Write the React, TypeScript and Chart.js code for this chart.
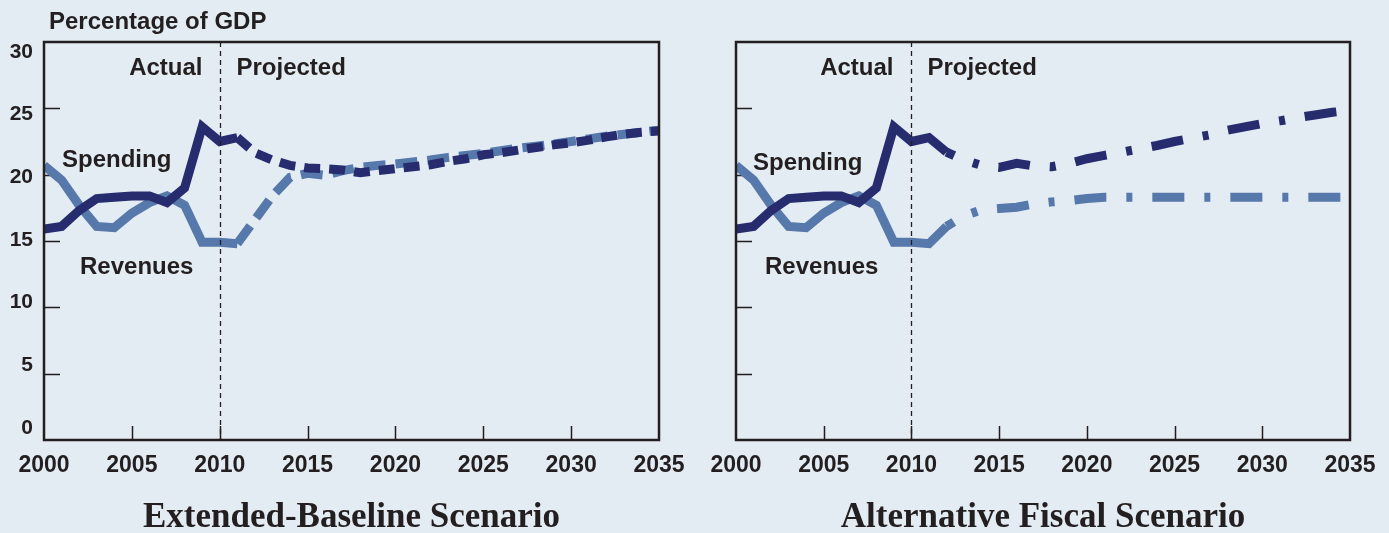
import React, { useEffect, useRef } from "react";
import { Chart, registerables } from "chart.js";

Chart.register(...registerables);

// ---------- data ----------
const years = [
  2000, 2001, 2002, 2003, 2004, 2005, 2006, 2007, 2008, 2009, 2010, 2011,
  2012, 2013, 2014, 2015, 2016, 2017, 2018, 2019, 2020, 2021, 2022, 2023,
  2024, 2025, 2026, 2027, 2028, 2029, 2030, 2031, 2032, 2033, 2034, 2035,
];

// 2000-2011 (actual)
const spendingActual = [15.9, 16.1, 17.3, 18.2, 18.3, 18.4, 18.4, 17.9, 19.0, 23.6, 22.5, 22.8];
const revenuesActual = [20.7, 19.6, 17.7, 16.1, 16.0, 17.1, 17.9, 18.4, 17.7, 14.9, 14.9, 14.8];

// 2012-2035 (projected)
const spendingBaseline = [
  21.65, 21.1, 20.7, 20.5, 20.45, 20.35, 20.15, 20.3, 20.45, 20.6, 20.75, 21.0,
  21.2, 21.5, 21.65, 21.85, 22.05, 22.25, 22.4, 22.6, 22.85, 23.05, 23.2, 23.3,
];
const revenuesBaseline = [
  16.6, 18.4, 19.8, 20.1, 19.95, 20.3, 20.55, 20.7, 20.8, 20.95, 21.1, 21.3,
  21.45, 21.6, 21.8, 22.0, 22.15, 22.3, 22.5, 22.7, 22.9, 23.05, 23.2, 23.35,
];
const spendingAlternative = [
  21.7, 21.1, 20.7, 20.55, 20.85, 20.65, 20.6, 20.85, 21.2, 21.45, 21.7, 21.95,
  22.2, 22.5, 22.75, 23.0, 23.35, 23.6, 23.85, 24.05, 24.3, 24.5, 24.7, 24.85,
];
const revenuesAlternative = [
  16.1, 16.9, 17.35, 17.45, 17.55, 17.8, 17.95, 18.05, 18.2, 18.3, 18.3, 18.3,
  18.3, 18.3, 18.3, 18.3, 18.3, 18.3, 18.3, 18.3, 18.3, 18.3, 18.3, 18.3,
];

const xTicks = [2000, 2005, 2010, 2015, 2020, 2025, 2030, 2035];
const yTicks = [0, 5, 10, 15, 20, 25, 30];
const dividerYear = 2010;

// ---------- styles ----------
const BG = "#E3EBF3";
const INK = "#231F20";
const SPEND = "#262C6E";
const REV = "#5678AA";
const SANS = '"Liberation Sans", Arial, Helvetica, sans-serif';
const SERIF = '"Liberation Serif", "Times New Roman", serif';

type Panel = {
  title: string;
  spending: number[];
  revenues: number[];
  dashFrom: number;
  spendDash: number[];
  revDash: number[];
  dashOffset: number;
  showYLabels: boolean;
  canvasLeft: number;
  canvasWidth: number;
  padLeft: number;
  padRight: number;
  spendLbl: [number, number];
  revLbl: [number, number];
};

const framePlugin = {
  id: "frame",
  beforeDatasetsDraw(chart: any) {
    const { ctx, chartArea: a, scales } = chart;
    ctx.save();
    ctx.strokeStyle = INK;
    ctx.lineWidth = 1.5;
    ctx.beginPath();
    yTicks.forEach((v) => {
      if (v === yTicks[0] || v === yTicks[yTicks.length - 1]) return;
      const py = Math.round(scales.y.getPixelForValue(v)) + 0.5;
      ctx.moveTo(a.left, py);
      ctx.lineTo(a.left + 16, py);
    });
    xTicks.forEach((v) => {
      if (v === xTicks[0] || v === xTicks[xTicks.length - 1]) return;
      const px = Math.round(scales.x.getPixelForValue(v)) + 0.5;
      ctx.moveTo(px, a.bottom);
      ctx.lineTo(px, a.bottom - 14);
    });
    ctx.stroke();
    ctx.restore();
  },
  afterDatasetsDraw(chart: any, _a: any, opts: any) {
    const { ctx, chartArea: a, scales } = chart;
    const p: Panel = opts.panel;
    ctx.save();
    // divider
    const dx = Math.round(scales.x.getPixelForValue(dividerYear)) + 0.5;
    ctx.strokeStyle = INK;
    ctx.lineWidth = 1.3;
    ctx.setLineDash([5, 4]);
    ctx.beginPath();
    ctx.moveTo(dx, a.top);
    ctx.lineTo(dx, a.bottom);
    ctx.stroke();
    ctx.setLineDash([]);
    // frame
    ctx.lineWidth = 2.5;
    ctx.strokeRect(a.left, a.top, a.right - a.left, a.bottom - a.top);

    ctx.fillStyle = INK;
    // x labels
    ctx.font = `bold 23px ${SANS}`;
    ctx.textAlign = "center";
    ctx.textBaseline = "alphabetic";
    xTicks.forEach((v) => {
      ctx.fillText(String(v), scales.x.getPixelForValue(v), a.bottom + 32);
    });
    // y labels
    if (p.showYLabels) {
      ctx.font = `bold 21px ${SANS}`;
      ctx.textAlign = "right";
      ctx.textBaseline = "middle";
      const top = a.top + 10;
      const bot = a.bottom - 12;
      yTicks.forEach((v) => {
        const py = scales.y.getPixelForValue(v);
        const t = (py - a.top) / (a.bottom - a.top);
        ctx.fillText(String(v), a.left - 11, top + t * (bot - top));
      });
      ctx.textAlign = "left";
      ctx.textBaseline = "alphabetic";
      ctx.font = `bold 24px ${SANS}`;
      ctx.fillText("Percentage of GDP", a.left + 5, 28.5);
    }
    // annotations
    ctx.font = `bold 24px ${SANS}`;
    ctx.textBaseline = "alphabetic";
    ctx.textAlign = "right";
    ctx.fillText("Actual", dx - 18, a.top + 33);
    ctx.textAlign = "left";
    ctx.fillText("Projected", dx + 16, a.top + 33);
    ctx.fillText("Spending", a.left + p.spendLbl[0], p.spendLbl[1]);
    ctx.fillText("Revenues", a.left + p.revLbl[0], p.revLbl[1]);
    // title
    ctx.font = `bold 35px ${SERIF}`;
    ctx.textAlign = "center";
    ctx.fillText(p.title, (a.left + a.right) / 2, 527);
    ctx.restore();
  },
};

const panels: Panel[] = [
  {
    title: "Extended-Baseline Scenario",
    spending: [...spendingActual, ...spendingBaseline],
    revenues: [...revenuesActual, ...revenuesBaseline],
    dashFrom: 2011,
    spendDash: [16, 9],
    revDash: [22, 10],
    dashOffset: 0,
    showYLabels: true,
    canvasLeft: 0,
    canvasWidth: 694,
    padLeft: 44,
    padRight: 35,
    spendLbl: [18, 167],
    revLbl: [36, 274],
  },
  {
    title: "Alternative Fiscal Scenario",
    spending: [...spendingActual, ...spendingAlternative],
    revenues: [...revenuesActual, ...revenuesAlternative],
    dashFrom: 2012,
    spendDash: [32, 20, 6, 20],
    revDash: [32, 20, 6, 20],
    dashOffset: 23.5,
    showYLabels: false,
    canvasLeft: 694,
    canvasWidth: 695,
    padLeft: 42,
    padRight: 39,
    spendLbl: [17, 170],
    revLbl: [29, 273.5],
  },
];

function PanelChart({ panel }: { panel: Panel }) {
  const ref = useRef<HTMLCanvasElement | null>(null);
  useEffect(() => {
    if (!ref.current) return;
    const seg = (dash: number[]) => ({
      borderDash: (c: any) => (years[c.p0DataIndex] >= panel.dashFrom ? dash : undefined),
      borderDashOffset: (c: any) =>
        years[c.p0DataIndex] >= panel.dashFrom ? panel.dashOffset : undefined,
    });
    const chart = new Chart(ref.current, {
      type: "line",
      data: {
        datasets: [
          {
            label: "Spending",
            data: years.map((yr, i) => ({ x: yr, y: panel.spending[i] })),
            borderColor: SPEND,
            segment: seg(panel.spendDash),
          } as any,
          {
            label: "Revenues",
            data: years.map((yr, i) => ({ x: yr, y: panel.revenues[i] })),
            borderColor: REV,
            segment: seg(panel.revDash),
          } as any,
        ],
      },
      options: {
        responsive: false,
        animation: false,
        events: [],
        layout: {
          autoPadding: false,
          padding: { left: panel.padLeft, right: panel.padRight, top: 42, bottom: 93 },
        } as any,
        plugins: {
          legend: { display: false },
          tooltip: { enabled: false },
          frame: { panel },
        } as any,
        scales: {
          x: { type: "linear", min: 2000, max: 2035, display: false },
          y: { min: 0, max: 30, display: false },
        },
        elements: {
          point: { radius: 0 },
          line: {
            tension: 0,
            borderWidth: 9,
            borderCapStyle: "butt",
            borderJoinStyle: "miter",
            fill: false,
          },
        },
      },
      plugins: [framePlugin as any],
    });
    return () => chart.destroy();
  }, [panel]);
  return (
    <canvas
      ref={ref}
      width={panel.canvasWidth}
      height={533}
      style={{
        position: "absolute",
        left: panel.canvasLeft,
        top: 0,
        width: panel.canvasWidth,
        height: 533,
        display: "block",
      }}
    />
  );
}

export default function App() {
  useEffect(() => {
    document.body.style.margin = "0";
    document.body.style.background = BG;
  }, []);
  return (
    <div
      style={{
        position: "fixed",
        left: 0,
        top: 0,
        width: 1389,
        height: 533,
        background: BG,
        overflow: "hidden",
      }}
    >
      {panels.map((p) => (
        <PanelChart key={p.title} panel={p} />
      ))}
    </div>
  );
}
